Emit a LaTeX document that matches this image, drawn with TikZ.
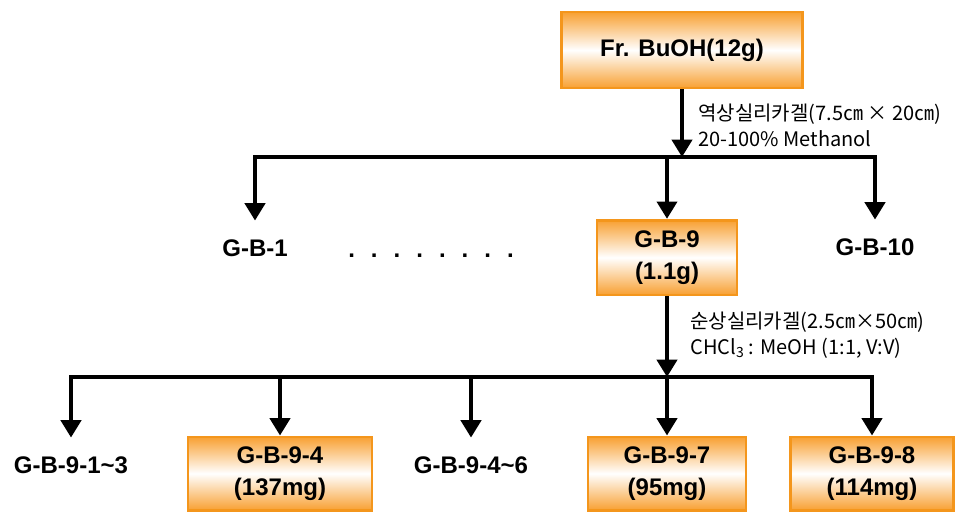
\documentclass[tikz,border=0pt]{standalone}
\usepackage{fontspec}
\setmainfont{Liberation Sans}
\newfontfamily\krfont{Noto Sans CJK KR}
\usetikzlibrary{arrows.meta}
\definecolor{boxedge}{RGB}{244,150,28}
\definecolor{boxfill}{RGB}{248,160,50}

\begin{document}
\begin{tikzpicture}[x=0.75pt,y=-0.75pt,
      fr/.style={draw=boxedge,line width=2pt,top color=boxfill,bottom color=boxfill,middle color=white,
                 minimum height=55pt,inner sep=0pt,align=center,font=\fontsize{18}{24}\selectfont\bfseries},
      nm/.style={inner xsep=0pt,inner ysep=14pt,font=\fontsize{18}{24}\selectfont\bfseries},
      ln/.style={line width=3pt,line cap=rect},
      arr/.style={line width=3pt,-{Triangle[width=15pt,length=13pt]}},
      note/.style={anchor=west,align=left,inner sep=0pt,font=\krfont\fontsize{15}{19.5}\selectfont}]
    \useasboundingbox (0,0) rectangle (977,511);
    % first column
    \node[fr,minimum width=181pt,minimum height=57pt] (bu) at (682,50) {Fr. BuOH(12g)};
    \coordinate (b1) at (0,157);
    \node[nm] (gb1)  at (255,248) {G-B-1};
    \node[fr,minimum width=105pt,minimum height=56pt] (gb9) at (667,257.5) {G-B-9\\(1.1g)};
    \node[nm] (gb10) at (875,247) {G-B-10};
    \node (dots) at (431,256) {\fontsize{18}{24}\selectfont\bfseries
      .\hspace{12pt}.\hspace{12pt}.\hspace{12pt}.\hspace{12pt}.\hspace{12pt}.\hspace{12pt}.\hspace{12pt}.};
    \draw[arr] (bu) -- (bu |- b1);
    \node[note] (n1) at (698,125) {역상실리카겔(7.5㎝ × 20㎝)\\20-100\% Methanol};
    \draw[ln] (gb1 |- b1) -- (gb10 |- b1);
    \draw[arr] (gb1 |- b1) -- (gb1);
    \draw[arr] (gb9 |- b1) -- (gb9);
    \draw[arr] (gb10 |- b1) -- (gb10);
    % second column
    \coordinate (b2) at (0,377);
    \node[nm] (g913) at (71,465)  {G-B-9-1\textasciitilde 3};
    \node[fr,minimum width=138pt] (g94) at (280,473.5) {G-B-9-4\\(137mg)};
    \node[nm] (g946) at (471,465) {G-B-9-4\textasciitilde 6};
    \node[fr,minimum width=118.5pt] (g97) at (667,473.5) {G-B-9-7\\(95mg)};
    \node[fr,minimum width=122pt] (g98) at (872,473.5) {G-B-9-8\\(114mg)};
    \draw[arr] (gb9) -- (gb9 |- b2);
    \node[note] (n2) at (690,335) {순상실리카겔(2.5㎝×50㎝)\\CHCl\textsubscript{3} : MeOH (1:1, V:V)};
    \draw[ln] (g913 |- b2) -- (g98 |- b2);
    \foreach \n in {g913,g94,g946,g97,g98}
      \draw[arr] (\n |- b2) -- (\n);
\end{tikzpicture}
\end{document}
